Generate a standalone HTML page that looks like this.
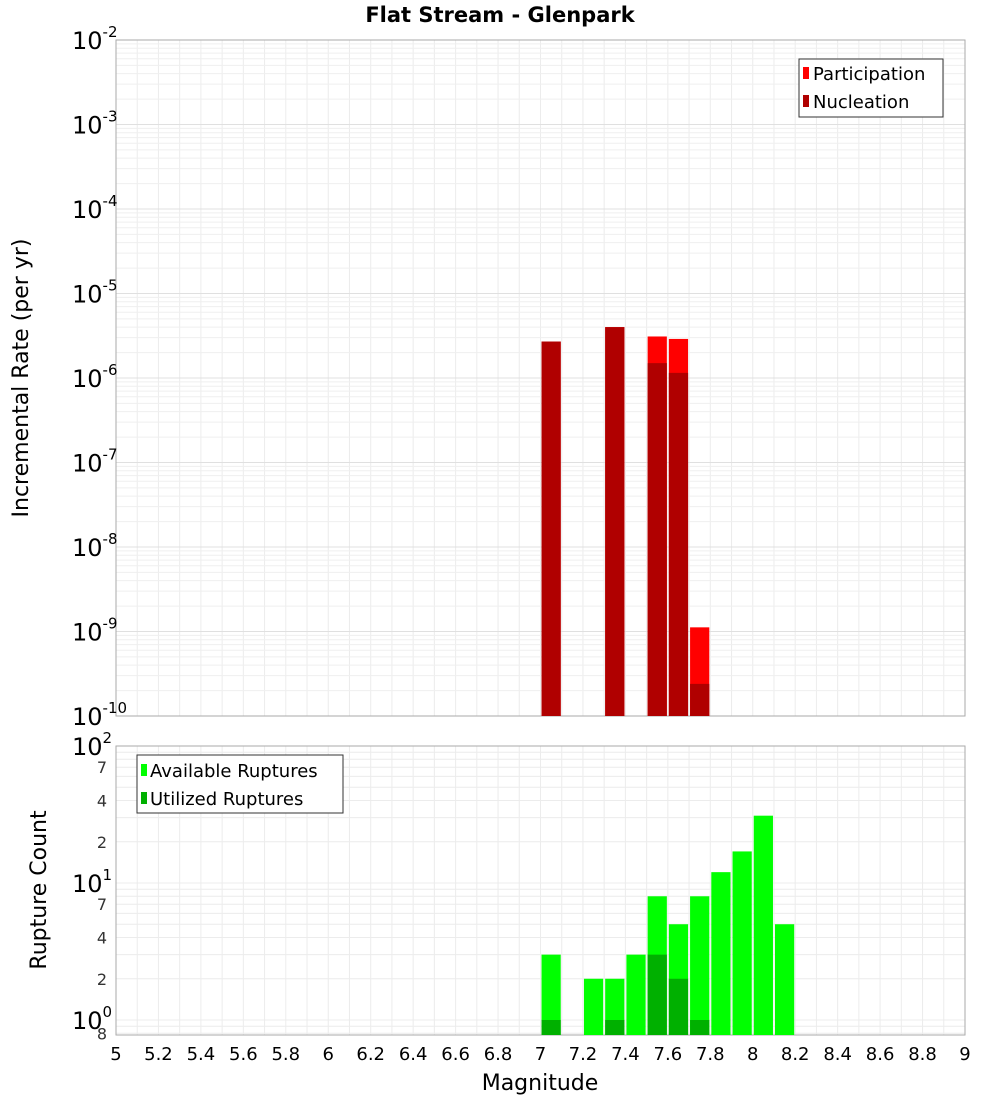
<!DOCTYPE html>
<html><head><meta charset="utf-8"><style>
body{margin:0;background:#fff;}
svg text{font-family:"DejaVu Sans","Liberation Sans",sans-serif;}
</style></head><body>
<svg id="chart" width="1000" height="1100" xmlns="http://www.w3.org/2000/svg">
<text x="500" y="22" text-anchor="middle" font-size="21" font-weight="bold">Flat Stream - Glenpark</text>
<g id="topPanel"></g><g id="botPanel"></g>
<text transform="translate(28,378) rotate(-90)" text-anchor="middle" font-size="22">Incremental Rate (per yr)</text>
<text transform="translate(46,890) rotate(-90)" text-anchor="middle" font-size="22">Rupture Count</text>
<text x="540" y="1090" text-anchor="middle" font-size="22">Magnitude</text>
</svg>
<script>
const mags = [7.05, 7.35, 7.55, 7.65, 7.75];
const participation = [2.7e-6, 4.0e-6, 3.1e-6, 2.9e-6, 1.12e-9];
const nucleation = [2.7e-6, 4.0e-6, 1.5e-6, 1.15e-6, 2.4e-10];
const countMags = [7.05, 7.25, 7.35, 7.45, 7.55, 7.65, 7.75, 7.85, 7.95, 8.05, 8.15];
const available = [3, 2, 2, 3, 8, 5, 8, 12, 17, 31, 5];
const utilized = [1, 0, 1, 0, 3, 2, 1, 0, 0, 0, 0];
const xTicks = [5,5.2,5.4,5.6,5.8,6,6.2,6.4,6.6,6.8,7,7.2,7.4,7.6,7.8,8,8.2,8.4,8.6,8.8,9];
const topExps = [-10,-9,-8,-7,-6,-5,-4,-3,-2];
const botMinorLabels = [[0.8,"8"],[2,"2"],[4,"4"],[7,"7"],[20,"2"],[40,"4"],[70,"7"]];

const NS="http://www.w3.org/2000/svg";
const L=116,R=965;
const T1=40,B1=716,T2=746,B2=1035;
const x=m=>L+(m-5)/4*(R-L);
const yTop=v=>B1-(Math.log10(v)+10)/8*(B1-T1);
const yBot=v=>1020-Math.log10(v)*137;
function mk(parent,tag,attrs,text){const e=document.createElementNS(NS,tag);for(const k in attrs)e.setAttribute(k,attrs[k]);if(text!==undefined)e.textContent=text;parent.appendChild(e);return e;}
const topG=document.getElementById('topPanel'),botG=document.getElementById('botPanel');

// top panel
let bg=mk(topG,'rect',{x:L,y:T1,width:R-L,height:B1-T1,fill:'#fff',stroke:'#aaa'});

for(let m=5;m<=9.001;m+=0.1){const l=mk(topG,'line',{x1:x(m),x2:x(m),y1:T1,y2:B1,stroke:'#ececec'});}
for(let e=-10;e<-2;e++)for(let k=1;k<10;k++){const yy=yTop(k*Math.pow(10,e));const l=mk(topG,'line',{x1:L,x2:R,y1:yy,y2:yy,stroke:k==1?'#e0e0e0':'#efefef'});}
mk(topG,'rect',{x:L,y:T1,width:R-L,height:B1-T1,fill:'none',stroke:'#aaa'});
mags.forEach((m,i)=>{
 const x0=x(m-0.05)+1,w=x(m+0.05)-x(m-0.05)-2;
 let b=mk(topG,'rect',{x:x0,y:yTop(participation[i]),width:w,height:B1-yTop(participation[i]),fill:'#ff0000'});
 
 b=mk(topG,'rect',{x:x0,y:yTop(nucleation[i]),width:w,height:B1-yTop(nucleation[i]),fill:'#b00000'});
 
});
topExps.forEach(e=>{const yy=yTop(Math.pow(10,e));const t=mk(topG,'text',{x:72,y:yy+9,'font-size':24});
 mk(t,'tspan',{},'10');mk(t,'tspan',{dy:-12,'font-size':15},String(e));});
let lg=mk(topG,'g',{});
mk(lg,'rect',{x:799,y:59,width:144,height:58,fill:'#fff',stroke:'#333'});
mk(lg,'rect',{x:803,y:67,width:6,height:12,fill:'#ff0000'});mk(lg,'text',{x:813,y:80,'font-size':18},'Participation');
mk(lg,'rect',{x:803,y:95,width:6,height:12,fill:'#b00000'});mk(lg,'text',{x:813,y:108,'font-size':18},'Nucleation');

// bottom panel
bg=mk(botG,'rect',{x:L,y:T2,width:R-L,height:B2-T2,fill:'#fff',stroke:'#aaa'});

for(let m=5;m<=9.001;m+=0.1){const l=mk(botG,'line',{x1:x(m),x2:x(m),y1:T2,y2:B2,stroke:'#ececec'});}
[0.8,0.9,1,2,3,4,5,6,7,8,9,10,20,30,40,50,60,70,80,90,100].forEach(v=>{const yy=yBot(v);const l=mk(botG,'line',{x1:L,x2:R,y1:yy,y2:yy,stroke:'#ececec'});});
mk(botG,'rect',{x:L,y:T2,width:R-L,height:B2-T2,fill:'none',stroke:'#aaa'});
countMags.forEach((m,i)=>{
 const x0=x(m-0.05)+1,w=x(m+0.05)-x(m-0.05)-2;
 let b=mk(botG,'rect',{x:x0,y:yBot(available[i]),width:w,height:B2-yBot(available[i]),fill:'#00ff00'});
 
 if(utilized[i]>0){b=mk(botG,'rect',{x:x0,y:yBot(utilized[i]),width:w,height:B2-yBot(utilized[i]),fill:'#00b000'});
 }
});
[0,1,2].forEach(e=>{const yy=yBot(Math.pow(10,e));const t=mk(botG,'text',{x:72,y:yy+9,'font-size':24});
 mk(t,'tspan',{},'10');mk(t,'tspan',{dy:-12,'font-size':15},String(e));});
botMinorLabels.forEach(([v,s])=>{const t=mk(botG,'text',{x:107,y:yBot(v)+6,'font-size':16,'text-anchor':'end',fill:'#333'},s);});
lg=mk(botG,'g',{});
mk(lg,'rect',{x:137,y:755,width:206,height:58,fill:'#fff',stroke:'#333'});
mk(lg,'rect',{x:141,y:764,width:6,height:12,fill:'#00ff00'});mk(lg,'text',{x:150,y:777,'font-size':18},'Available Ruptures');
mk(lg,'rect',{x:141,y:792,width:6,height:12,fill:'#00b000'});mk(lg,'text',{x:150,y:805,'font-size':18},'Utilized Ruptures');
xTicks.forEach(m=>{const t=mk(botG,'text',{x:x(m),y:1060,'font-size':18,'text-anchor':'middle'},String(m));});
</script>
</body></html>
